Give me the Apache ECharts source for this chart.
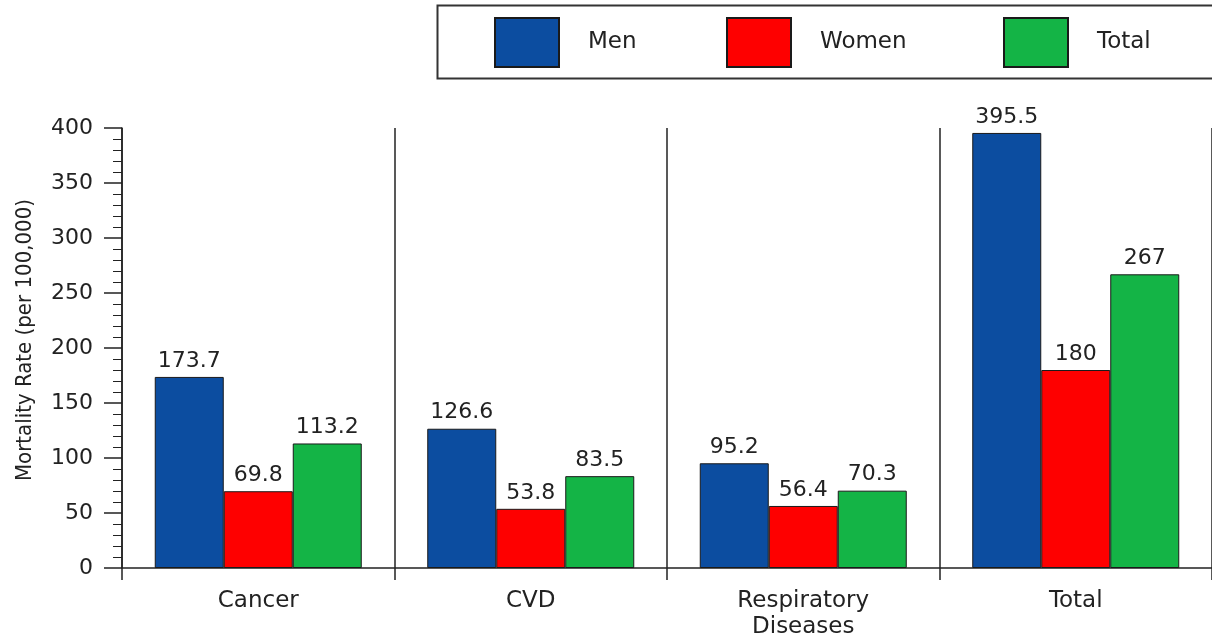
<!DOCTYPE html>
<html>
<head>
<meta charset="utf-8">
<script src="https://cdn.jsdelivr.net/npm/echarts@6/dist/echarts.min.js"></script>
<style>html,body{margin:0;padding:0;background:#fff;}#c{width:1212px;height:641px;}</style>
</head>
<body>
<div id="c"></div>
<script>
const categories = ['Cancer', 'CVD', 'Respiratory\nDiseases', 'Total'];
const men = [173.7, 126.6, 95.2, 395.5];
const women = [69.8, 53.8, 56.4, 180];
const total = [113.2, 83.5, 70.3, 267];
const seriesNames = ['Men', 'Women', 'Total'];
const colors = ['#0c4da0', '#fe0000', '#14b446'];
const yTicks = { min: 0, max: 400, interval: 50 };
const yTitle = 'Mortality Rate (per 100,000)';

const FONT = 'DejaVu Sans';
const chart = echarts.init(document.getElementById('c'));
const values = [men, women, total];
const legendLeft = [494, 726, 1003];

chart.setOption({
  animation: false,
  backgroundColor: '#ffffff',
  graphic: [{
    type: 'rect', left: 435, top: 3, z: 0,
    shape: { width: 800, height: 73 },
    style: { fill: 'none', stroke: '#333', lineWidth: 2 }
  }],
  legend: seriesNames.map((n, i) => ({
    left: legendLeft[i], top: 17,
    padding: 0,
    itemWidth: 64, itemHeight: 49,
    icon: 'rect',
    data: [n],
    textStyle: { fontFamily: FONT, fontSize: 23, color: '#222', padding: [0, 0, 0, 24] }
  })),
  grid: { left: 122, right: 0, top: 128, bottom: 73, containLabel: false },
  xAxis: {
    type: 'category',
    data: categories,
    axisLine: { show: true, lineStyle: { color: '#222', width: 1.5 } },
    axisTick: { show: true, length: 12, interval: 0, lineStyle: { color: '#222', width: 1.5 } },
    splitLine: { show: true, interval: 0, lineStyle: { color: '#222', width: 1.5 } },
    axisLabel: { interval: 0, margin: 20, fontFamily: FONT, fontSize: 23, color: '#222', lineHeight: 26 }
  },
  yAxis: {
    type: 'value',
    min: yTicks.min, max: yTicks.max, interval: yTicks.interval,
    name: yTitle,
    nameLocation: 'middle',
    nameGap: 86,
    nameRotate: 90,
    nameTextStyle: { fontFamily: "'DejaVu Sans Condensed', 'Liberation Sans'", fontSize: 22, color: '#222', padding: [0, 0, 0, 16] },
    axisLine: { show: true, lineStyle: { color: '#222', width: 1.5 } },
    axisTick: { show: true, length: 18, lineStyle: { color: '#222', width: 1.5 } },
    minorTick: { show: true, splitNumber: 5, length: 9, lineStyle: { color: '#222', width: 1 } },
    splitLine: { show: false },
    axisLabel: { margin: 29, fontFamily: FONT, fontSize: 22, color: '#222' }
  },
  series: seriesNames.map((n, i) => ({
    name: n,
    type: 'bar',
    data: values[i],
    barWidth: 69,
    barGap: '0%',
    itemStyle: { color: colors[i], borderColor: '#1a1a1a', borderWidth: 1 },
    label: {
      show: true, position: 'top', distance: 5,
      fontFamily: FONT, fontSize: 22, color: '#222'
    }
  }))
});
</script>
</body>
</html>
